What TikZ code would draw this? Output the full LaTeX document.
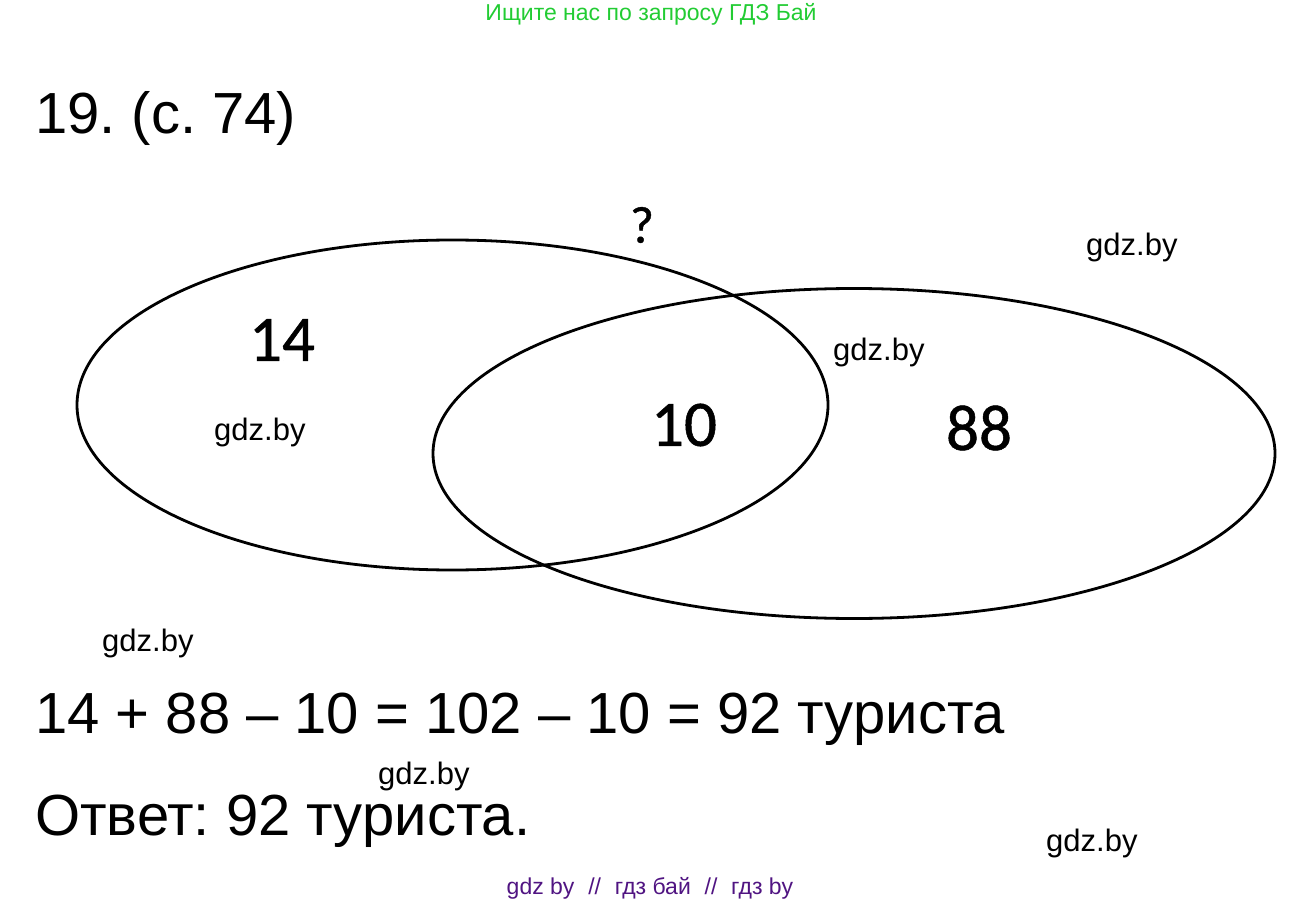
\documentclass[tikz,border=0pt]{standalone}
\usepackage{fontspec}
\setmainfont{Liberation Sans}
\newfontfamily\calfont{Carlito}[FakeBold=0.8]
\usetikzlibrary{shapes.geometric}
\definecolor{hdrgreen}{RGB}{34,204,51}
\definecolor{ftpurple}{RGB}{80,20,130}
\frenchspacing
\tikzset{
 wm/.style={anchor=base west, inner sep=0pt, font=\fontsize{31}{31}\selectfont},
 bigline/.style={anchor=base west, inner sep=0pt, font=\fontsize{58}{58}\selectfont},
 vnum/.style={inner sep=0pt, font=\calfont\fontsize{65}{65}\selectfont},
 venn/.style={ellipse, draw, line width=2.8pt, inner sep=0pt},
}
\begin{document}
\begin{tikzpicture}[x=1pt,y=-1pt]
\useasboundingbox (0,0) rectangle (1303,901);
\fill[white] (0,0) rectangle (1303,901);
% header and footer
\node[anchor=base, inner sep=0pt, font=\fontsize{23}{23}\selectfont, text=hdrgreen] (hdr) at (651,21) {Ищите нас по запросу ГДЗ Бай};
\node[anchor=base, inner sep=0pt, font=\fontsize{23}{23}\selectfont, text=ftpurple] (ftr) at (650,894) {gdz by\hspace{0.6em}//\hspace{0.6em}гдз бай\hspace{0.6em}//\hspace{0.6em}гдз by};
% title
\node[bigline] (title) at (35,134) {19. (с. 74)};
% Venn diagram
\node[venn, minimum width=751pt, minimum height=330pt] (setA) at (452.5,405) {};
\node[venn, minimum width=842pt, minimum height=330pt] (setB) at (854,453.5) {};
\node[vnum] (n14) at (282,340) {14};
\node[vnum] (n10) at (684,425) {10};
\node[vnum] (n88) at (979,428) {88};
\node[inner sep=0pt, font=\calfont\fontsize{52}{52}\selectfont] (q) at (642,225) {?};
% watermarks
\node[wm] (w1) at (1086,255) {gdz.by};
\node[wm] (w2) at (833,360) {gdz.by};
\node[wm] (w3) at (214,440) {gdz.by};
\node[wm] (w4) at (102,651) {gdz.by};
\node[wm] (w5) at (378,784) {gdz.by};
\node[wm] (w6) at (1046,851) {gdz.by};
% solution
\node[bigline] (eq) at (35,733) {14 + 88 – 10 = 102 – 10 = 92 туриста};
\node[bigline] (ans) at (35,835) {Ответ: 92 туриста.};
\end{tikzpicture}
\end{document}
